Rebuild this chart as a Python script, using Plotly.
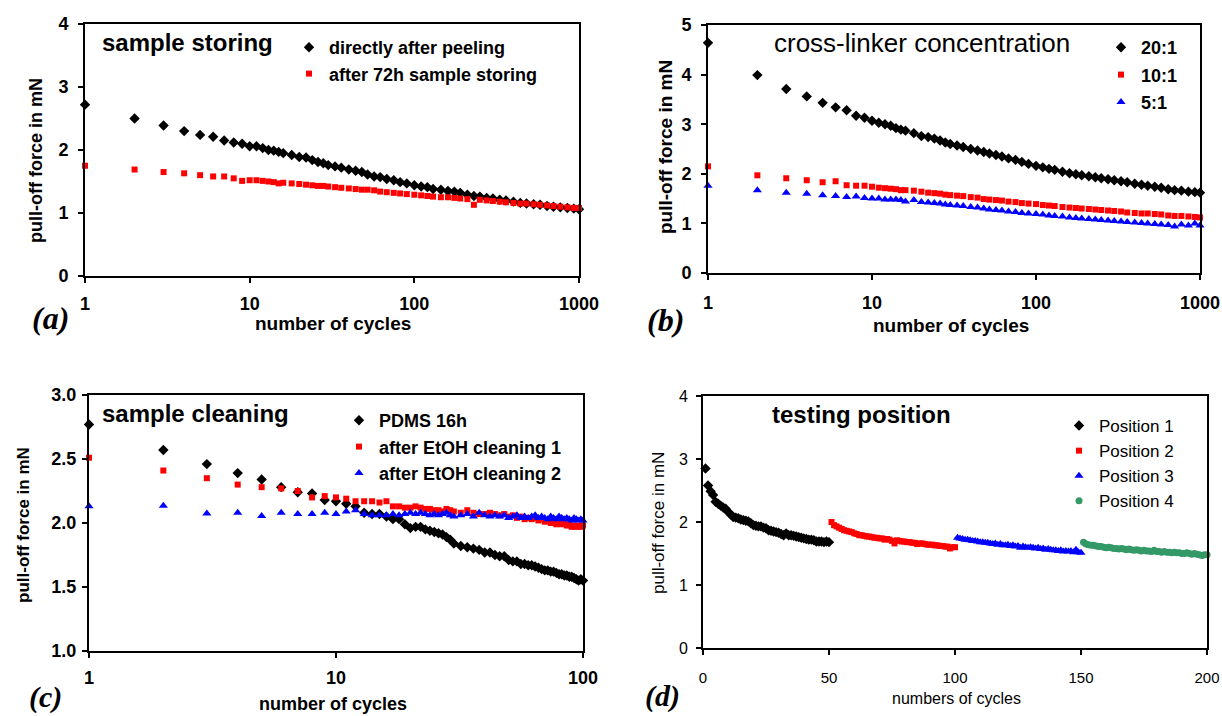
import plotly.graph_objects as go

W, H = 1222, 716


def px(x):
    return x / W


def py(y):
    return 1 - y / H


# ---------------- data ----------------
xs_ab = [1, 2, 3, 4, 5, 6, 7, 8, 9, 10,
         11, 12, 13, 14, 15, 16, 18, 20, 22, 24,
         26, 28, 30, 33, 36, 40, 44, 48, 52, 57,
         62, 68, 75, 82, 90, 100, 110, 120, 130, 145,
         160, 175, 190, 210, 230, 250, 275, 300, 330, 360,
         400, 440, 480, 530, 580, 640, 700, 770, 850, 930,
         1000]

a_direct = [2.72, 2.50, 2.39, 2.30, 2.24, 2.21, 2.15, 2.12, 2.10, 2.06,
            2.06, 2.03, 2.00, 1.99, 1.97, 1.95, 1.92, 1.89, 1.88, 1.84,
            1.81, 1.79, 1.76, 1.74, 1.72, 1.69, 1.67, 1.65, 1.61, 1.58,
            1.57, 1.54, 1.52, 1.49, 1.47, 1.44, 1.42, 1.41, 1.38, 1.37,
            1.35, 1.34, 1.32, 1.29, 1.27, 1.26, 1.24, 1.23, 1.21, 1.20,
            1.18, 1.16, 1.15, 1.14, 1.13, 1.11, 1.10, 1.09, 1.08, 1.07,
            1.06]
a_stored = [1.75, 1.69, 1.65, 1.63, 1.60, 1.58, 1.58, 1.55, 1.51, 1.52,
            1.52, 1.51, 1.50, 1.49, 1.47, 1.48, 1.47, 1.46, 1.45, 1.44,
            1.43, 1.43, 1.42, 1.41, 1.40, 1.39, 1.38, 1.37, 1.37, 1.36,
            1.34, 1.33, 1.32, 1.31, 1.30, 1.29, 1.28, 1.27, 1.26, 1.25,
            1.25, 1.24, 1.23, 1.22, 1.13, 1.21, 1.20, 1.19, 1.18, 1.17,
            1.16, 1.15, 1.15, 1.14, 1.13, 1.12, 1.11, 1.10, 1.09, 1.08,
            1.08]

b_20 = [4.64, 3.99, 3.71, 3.56, 3.43, 3.34, 3.28, 3.17, 3.13, 3.07,
        3.03, 3.00, 2.97, 2.92, 2.89, 2.87, 2.82, 2.76, 2.74, 2.71,
        2.67, 2.63, 2.60, 2.57, 2.54, 2.50, 2.47, 2.44, 2.41, 2.38,
        2.35, 2.31, 2.28, 2.24, 2.20, 2.16, 2.13, 2.10, 2.08, 2.04,
        2.01, 1.99, 1.97, 1.95, 1.93, 1.91, 1.89, 1.87, 1.85, 1.83,
        1.80, 1.78, 1.76, 1.74, 1.72, 1.69, 1.67, 1.66, 1.64, 1.63,
        1.62]
b_10 = [2.15, 1.97, 1.91, 1.87, 1.83, 1.85, 1.77, 1.76, 1.76, 1.74,
        1.72, 1.71, 1.70, 1.69, 1.67, 1.67, 1.66, 1.64, 1.62, 1.61,
        1.60, 1.58, 1.57, 1.56, 1.55, 1.53, 1.52, 1.49, 1.48, 1.47,
        1.46, 1.44, 1.43, 1.41, 1.40, 1.39, 1.37, 1.36, 1.35, 1.33,
        1.32, 1.31, 1.30, 1.29, 1.28, 1.27, 1.26, 1.25, 1.24, 1.22,
        1.21, 1.20, 1.20, 1.19, 1.18, 1.16, 1.15, 1.15, 1.14, 1.13,
        1.12]
b_5 = [1.76, 1.67, 1.62, 1.60, 1.57, 1.55, 1.53, 1.54, 1.51, 1.50,
       1.50, 1.48, 1.48, 1.48, 1.47, 1.44, 1.47, 1.43, 1.42, 1.41,
       1.40, 1.38, 1.37, 1.36, 1.35, 1.33, 1.32, 1.30, 1.28, 1.27,
       1.26, 1.24, 1.23, 1.21, 1.20, 1.19, 1.18, 1.16, 1.15, 1.14,
       1.12, 1.11, 1.10, 1.09, 1.08, 1.07, 1.06, 1.05, 1.04, 1.03,
       1.02, 1.01, 1.00, 0.99, 0.98, 0.97, 0.94, 0.98, 0.96, 1.00,
       0.96]

xs_c = [1, 2, 3, 4, 5, 6, 7, 8, 9, 10,
        11, 12, 13, 14, 15, 16, 17, 18, 19, 20,
        21, 22, 23, 24, 25, 26, 27, 28, 29, 30,
        32, 34, 36, 38, 40, 42, 44, 46, 48, 50,
        52, 54, 56, 58, 60, 62, 64, 66, 68, 70,
        72, 74, 76, 78, 80, 82, 84, 86, 88, 90,
        92, 94, 96, 98, 100]
c_pdms = [2.77, 2.57, 2.46, 2.39, 2.34, 2.28, 2.24, 2.23, 2.18, 2.17,
          2.15, 2.13, 2.08, 2.07, 2.07, 2.05, 2.03, 2.03, 1.99, 1.96,
          1.97, 1.97, 1.95, 1.94, 1.93, 1.92, 1.91, 1.89, 1.87, 1.84,
          1.82, 1.81, 1.80, 1.79, 1.77, 1.77, 1.75, 1.74, 1.74, 1.71,
          1.70, 1.70, 1.68, 1.68, 1.67, 1.67, 1.66, 1.65, 1.64, 1.63,
          1.63, 1.62, 1.62, 1.61, 1.60, 1.60, 1.59, 1.59, 1.58, 1.58,
          1.57, 1.56, 1.55, 1.56, 1.55]
c_etoh1 = [2.51, 2.41, 2.35, 2.30, 2.28, 2.27, 2.25, 2.20, 2.21, 2.20,
           2.19, 2.17, 2.17, 2.17, 2.16, 2.17, 2.13, 2.13, 2.12, 2.12,
           2.13, 2.12, 2.11, 2.11, 2.10, 2.10, 2.09, 2.11, 2.10, 2.09,
           2.08, 2.10, 2.08, 2.07, 2.07, 2.08, 2.07, 2.06, 2.07, 2.05,
           2.06, 2.04, 2.05, 2.03, 2.04, 2.03, 2.04, 2.02, 2.03, 2.01,
           2.02, 2.00, 2.01, 1.99, 2.00, 1.99, 2.00, 1.98, 1.99, 1.97,
           1.98, 1.97, 1.98, 1.97, 1.98]
c_etoh2 = [2.13, 2.135, 2.075, 2.08, 2.055, 2.08, 2.07, 2.07, 2.08, 2.07,
           2.09, 2.10, 2.07, 2.06, 2.06, 2.06, 2.07, 2.06, 2.07, 2.08,
           2.07, 2.08, 2.07, 2.06, 2.07, 2.06, 2.07, 2.08, 2.06, 2.05,
           2.06, 2.07, 2.05, 2.08, 2.06, 2.05, 2.06, 2.05, 2.06, 2.04,
           2.05, 2.06, 2.04, 2.05, 2.04, 2.05, 2.06, 2.04, 2.05, 2.04,
           2.03, 2.05, 2.04, 2.03, 2.05, 2.04, 2.03, 2.04, 2.03, 2.02,
           2.04, 2.03, 2.02, 2.03, 2.02]

d_x1 = list(range(1, 51))
d_x2 = list(range(51, 101))
d_x3 = list(range(101, 151))
d_x4 = list(range(151, 201))
d_pos1 = [2.85, 2.58, 2.49, 2.43, 2.32, 2.29, 2.26, 2.23, 2.21, 2.16,
          2.12, 2.08, 2.07, 2.06, 2.04, 2.03, 2.02, 2.01, 1.98, 1.95,
          1.94, 1.93, 1.93, 1.91, 1.90, 1.87, 1.86, 1.85, 1.84, 1.83,
          1.81, 1.79, 1.82, 1.79, 1.79, 1.78, 1.77, 1.76, 1.75, 1.74,
          1.73, 1.72, 1.72, 1.71, 1.69, 1.69, 1.69, 1.68, 1.69, 1.68]
d_pos2 = [2.00, 1.95, 1.93, 1.91, 1.89, 1.87, 1.86, 1.85, 1.84, 1.82,
          1.81, 1.79, 1.79, 1.78, 1.77, 1.77, 1.76, 1.75, 1.75, 1.74,
          1.74, 1.72, 1.73, 1.72, 1.70, 1.66, 1.71, 1.70, 1.69, 1.69,
          1.68, 1.68, 1.67, 1.67, 1.65, 1.66, 1.66, 1.65, 1.64, 1.64,
          1.64, 1.63, 1.63, 1.62, 1.62, 1.61, 1.61, 1.58, 1.60, 1.60]
d_pos3 = [1.75, 1.74, 1.73, 1.72, 1.72, 1.71, 1.70, 1.70, 1.69, 1.68,
          1.68, 1.67, 1.67, 1.66, 1.65, 1.66, 1.64, 1.65, 1.63, 1.63,
          1.64, 1.62, 1.63, 1.61, 1.62, 1.59, 1.61, 1.60, 1.59, 1.60,
          1.59, 1.58, 1.59, 1.57, 1.58, 1.56, 1.57, 1.56, 1.55, 1.55,
          1.54, 1.55, 1.53, 1.54, 1.53, 1.54, 1.52, 1.56, 1.52, 1.51]
d_pos4 = [1.68, 1.65, 1.64, 1.63, 1.63, 1.62, 1.61, 1.61, 1.60, 1.59,
          1.60, 1.59, 1.58, 1.58, 1.57, 1.58, 1.57, 1.56, 1.57, 1.56,
          1.55, 1.56, 1.55, 1.54, 1.55, 1.54, 1.54, 1.53, 1.55, 1.53,
          1.53, 1.52, 1.53, 1.52, 1.52, 1.51, 1.52, 1.51, 1.51, 1.50,
          1.50, 1.51, 1.50, 1.49, 1.50, 1.49, 1.48, 1.47, 1.48, 1.48]

log_ticks_ab = [1, 10, 100, 1000]
log_ticks_c = [1, 10, 100]

# ---------------- styles ----------------
SANS = "Liberation Sans, Arial, sans-serif"
SERIF = "Liberation Serif, Times New Roman, serif"
BLACK, RED, BLUE, GREEN = "#000000", "#ff0000", "#0000ff", "#339966"

fig = go.Figure()


def add(xs, ys, name, color, symbol, size, n, leg):
    fig.add_trace(go.Scatter(
        x=xs, y=ys, mode="markers", name=name,
        marker=dict(color=color, symbol=symbol, size=size, line=dict(width=0)),
        xaxis="x" if n == 1 else f"x{n}", yaxis="y" if n == 1 else f"y{n}",
        legend=leg, legendgroup=name + leg, cliponaxis=False, showlegend=True))


add(xs_ab, a_direct, "directly after peeling", BLACK, "diamond", 8, 1, "legend")
add(xs_ab, a_stored, "after 72h sample storing", RED, "square", 6, 1, "legend")
add(xs_ab, b_20, "20:1", BLACK, "diamond", 8, 2, "legend2")
add(xs_ab, b_10, "10:1", RED, "square", 6, 2, "legend2")
add(xs_ab, b_5, "5:1", BLUE, "triangle-up", 8, 2, "legend2")
add(xs_c, c_pdms, "PDMS 16h", BLACK, "diamond", 8, 3, "legend3")
add(xs_c, c_etoh1, "after EtOH cleaning 1", RED, "square", 6, 3, "legend3")
add(xs_c, c_etoh2, "after EtOH cleaning 2", BLUE, "triangle-up", 8, 3, "legend3")
add(d_x1, d_pos1, "Position 1", BLACK, "diamond", 8, 4, "legend4")
add(d_x2, d_pos2, "Position 2", RED, "square", 6, 4, "legend4")
add(d_x3, d_pos3, "Position 3", BLUE, "triangle-up", 8, 4, "legend4")
add(d_x4, d_pos4, "Position 4", GREEN, "circle", 7, 4, "legend4")


def axis_style(bold=True, size=18, **kw):
    d = dict(showline=True, linecolor="black", linewidth=2, mirror=True,
             ticks="outside", ticklen=5, tickwidth=2, tickcolor="black",
             showgrid=False, zeroline=False, automargin=False,
             ticklabeloverflow="allow",
             tickfont=dict(family=SANS, size=size, color="black",
                           weight="bold" if bold else "normal"))
    d.update(kw)
    return d


# panel boxes in pixels (left, right, top, bottom)
A = (85, 579, 24, 276)
B = (708, 1200, 25, 273)
C = (89, 583, 395, 651)
D = (703, 1207, 396, 648)


def xdom(p):
    return [px(p[0]), px(p[1])]


def ydom(p):
    return [py(p[3]), py(p[2])]


fig.update_layout(
    template="none",
    width=W, height=H, margin=dict(l=0, r=0, t=0, b=0, pad=0, autoexpand=False),
    paper_bgcolor="white", plot_bgcolor="white",
    xaxis=axis_style(type="log", range=[0, 3], tickvals=log_ticks_ab,
                     ticktext=[str(v) for v in log_ticks_ab], domain=xdom(A),
                     anchor="y", ticklabelstandoff=5),
    yaxis=axis_style(range=[0, 4], dtick=1, domain=ydom(A), anchor="x",
                     ticklabelstandoff=6),
    xaxis2=axis_style(type="log", range=[0, 3], tickvals=log_ticks_ab,
                      ticktext=[str(v) for v in log_ticks_ab], domain=xdom(B),
                      anchor="y2", ticklabelstandoff=7),
    yaxis2=axis_style(range=[0, 5], dtick=1, domain=ydom(B), anchor="x2",
                      ticklabelstandoff=6),
    xaxis3=axis_style(type="log", range=[0, 2], tickvals=log_ticks_c,
                      ticktext=[str(v) for v in log_ticks_c], domain=xdom(C),
                      anchor="y3", ticklabelstandoff=4),
    yaxis3=axis_style(range=[1, 3], dtick=0.5, tickformat=".1f", domain=ydom(C),
                      anchor="x3", ticklabelstandoff=2),
    xaxis4=axis_style(bold=False, size=15, range=[0, 200], dtick=50,
                      domain=xdom(D), anchor="y4", ticklabelstandoff=10),
    yaxis4=axis_style(bold=False, size=16, range=[0, 4], dtick=1,
                      domain=ydom(D), anchor="x4", ticklabelstandoff=5),
    showlegend=True,
)

leg_common = dict(xanchor="left", yanchor="top", bgcolor="rgba(0,0,0,0)",
                  borderwidth=0, traceorder="grouped", itemwidth=30,
                  itemclick=False, itemdoubleclick=False)
fig.update_layout(
    legend=dict(x=px(329 - 40), y=py(47 - 18), tracegroupgap=0,
                font=dict(family=SANS, size=18, color="black", weight="bold"),
                **leg_common),
    legend2=dict(x=px(1141 - 40), y=py(45 - 16), tracegroupgap=1,
                 font=dict(family=SANS, size=18, color="black", weight="bold"),
                 **leg_common),
    legend3=dict(x=px(379 - 40), y=py(419 - 17), tracegroupgap=0,
                 font=dict(family=SANS, size=18, color="black", weight="bold"),
                 **leg_common),
    legend4=dict(x=px(1099 - 40), y=py(425 - 17), tracegroupgap=0,
                 font=dict(family=SANS, size=17, color="black"),
                 **leg_common),
)

ann = []


def text(x, y, s, size, bold=True, family=SANS, angle=0, italic=False):
    t = f"<b>{s}</b>" if bold else s
    if italic:
        t = f"<i>{t}</i>"
    ann.append(dict(x=px(x), y=py(y), xref="paper", yref="paper", text=t,
                    showarrow=False, xanchor="center", yanchor="middle",
                    textangle=angle,
                    font=dict(family=family, size=size, color="black")))


# inner titles
text(187, 43, "sample storing", 24)
text(922, 43, "cross-linker concentration", 26, bold=False)
text(195, 413, "sample cleaning", 24)
text(862, 414, "testing position", 24)
# x-axis titles
text(333, 323, "number of cycles", 19)
text(951, 325, "number of cycles", 19)
text(333, 704, "number of cycles", 18)
text(956, 698, "numbers of cycles", 16, bold=False)
# y-axis titles
text(36, 161, "pull-off force in mN", 18, angle=-90)
text(665, 147, "pull-off force in mN", 19, angle=-90)
text(23, 525, "pull-off force in mN", 17, angle=-90)
text(658, 523, "pull-off force in mN", 17, bold=False, angle=-90)
# panel labels
text(50, 318, "(a)", 32, family=SERIF, italic=True)
text(665, 320, "(b)", 32, family=SERIF, italic=True)
text(45, 697, "(c)", 30, family=SERIF, italic=True)
text(662, 696, "(d)", 30, family=SERIF, italic=True)

fig.update_layout(annotations=ann)

fig.write_html("out.html")
